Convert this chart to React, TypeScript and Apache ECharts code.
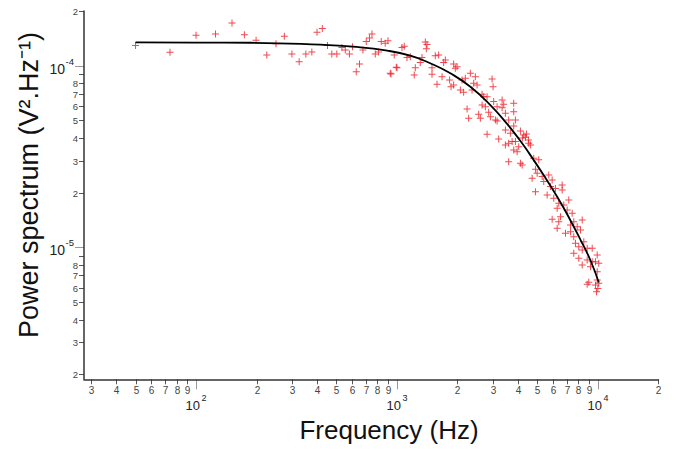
import React, { useEffect, useRef } from "react";
import * as echarts from "echarts";

// Axis extents (Hz, V²/Hz)
const xMin = 27.7;
const xMax = 20000;
const yMin = 1.876e-6;
const yMax = 2e-4;

// Measured points: [frequency Hz, power in 1e-5 V²/Hz]
const scatterPoints: [number, number][] = [
  [50, 12.9], [74.2, 11.85], [100, 14.7], [125, 14.95], [151, 17.2], [174, 14.8], [199, 13.8], [225, 11.45],
  [250, 13.2], [275, 14.5], [300, 11.6], [326, 10.5], [352, 11.6], [377, 11.9], [400, 15.3], [425, 16.0],
  [451, 12.9], [474, 11.6], [502, 11.6], [532, 12.6], [553, 12.2], [580, 11.6], [601, 12.7], [627, 9.27],
  [651, 10.2], [677, 12.2], [703, 13.6], [730, 14.2], [751, 14.95], [780, 11.6], [810, 11.9], [835, 13.6],
  [874, 13.3], [902, 13.7], [934, 9.0], [992, 9.8], [969, 11.45],
  [1059, 12.6], [1087, 12.8], [1384, 13.5], [1411, 13.1], [1400, 12.4], [1121, 11.1], [1165, 11.2],
  [1332, 11.1], [1551, 11.35], [1612, 11.45], [1741, 10.75], [1000, 9.75], [1234, 9.75], [1306, 10.4],
  [1494, 9.75], [1707, 10.4], [926, 9.08], [1219, 8.89], [1494, 8.97], [1676, 8.7], [1914, 10.2],
  [1991, 9.87], [1952, 9.67], [1582, 7.9], [1828, 8.34], [1858, 7.66], [1914, 7.83], [2108, 8.34],
  [2189, 8.52], [2318, 9.08], [2455, 8.7], [2504, 7.83], [2408, 8.0], [2068, 7.35], [2147, 7.14],
  [2364, 7.35], [2652, 6.96], [2701, 6.75], [2974, 8.45], [3008, 7.66], [2808, 6.75], [3029, 6.34],
  [3336, 6.47], [3398, 6.13], [3811, 6.21], [2652, 6.08], [2754, 5.95], [3150, 5.95], [3336, 5.87],
  [2233, 5.78], [2551, 5.4], [2860, 5.54], [2274, 5.13], [2600, 5.13], [2917, 5.24], [3089, 5.02],
  [3150, 4.96], [3464, 5.47], [3597, 5.02], [3811, 5.58], [3886, 5.02], [3464, 4.42], [3668, 4.24],
  [2808, 4.19], [3208, 3.95], [3886, 3.82],
  [3811, 4.66], [3597, 3.74], [3464, 3.66], [3741, 3.82], [3963, 3.36], [4036, 3.58], [3811, 3.43],
  [4274, 4.15], [4408, 4.21], [4357, 4.03], [4526, 3.74], [4615, 3.66], [4115, 2.9], [3597, 2.96],
  [4196, 2.84], [4793, 3.09], [5076, 3.03], [4888, 2.69], [4706, 2.4], [4984, 2.56], [5279, 2.45],
  [5376, 2.3], [5694, 2.5], [5920, 2.35], [5804, 2.16], [4888, 2.02], [5590, 1.941], [6148, 2.11],
  [6639, 2.2], [6639, 2.07], [6030, 1.861], [6385, 1.747], [6763, 1.71], [7161, 1.822], [7031, 1.605],
  [7445, 1.539], [5920, 1.426], [6385, 1.384], [7583, 1.384], [8354, 1.413], [7302, 1.327], [7886, 1.299],
  [4210, 4.0], [4510, 3.9], [4115, 4.37],
  [6269, 1.64], [6512, 1.474], [6269, 1.272], [6897, 1.194], [7302, 1.219], [7583, 1.144], [8190, 1.245],
  [7733, 1.052], [8031, 1.008], [8507, 1.074], [7583, 0.927], [8354, 0.966], [8844, 0.987], [9367, 0.987],
  [9920, 0.907], [8031, 0.87], [8844, 0.851], [9367, 0.833], [9728, 0.833], [10100, 0.816], [8354, 0.799],
  [9186, 0.782], [9920, 0.734], [9008, 0.642], [8844, 0.626], [9920, 0.661], [9728, 0.62], [10100, 0.634],
  [9840, 0.569], [9990, 0.594],
];

// Fitted curve, power in 1e-5 V²/Hz
const fitFreq = [50, 100, 186, 415, 606, 895, 1165, 1465, 1844, 2319, 2916, 3532, 4115, 4443, 5377, 6269, 7031, 8190, 9186, 10100];
const fitPower5 = [13.42, 13.4, 13.37, 13.05, 12.72, 12.1, 11.35, 10.31, 9.08, 7.66, 6.07, 4.78, 3.85, 3.42, 2.49, 1.9, 1.52, 1.1, 0.846, 0.64];

// Tick values and labels
const xMinorTicks = [30, 40, 50, 60, 70, 80, 90, 200, 300, 400, 500, 600, 700, 800, 900, 2000, 3000, 4000, 5000, 6000, 7000, 8000, 9000, 20000];
const xMinorLabels = ["3", "4", "5", "6", "7", "8", "9", "2", "3", "4", "5", "6", "7", "8", "9", "2", "3", "4", "5", "6", "7", "8", "9", "2"];
const xDecades = [100, 1000, 10000];
const xDecadeExps = ["2", "3", "4"];
const yMinorTicks = [2e-6, 3e-6, 4e-6, 5e-6, 6e-6, 7e-6, 8e-6, 9e-6, 2e-5, 3e-5, 4e-5, 5e-5, 6e-5, 7e-5, 8e-5, 9e-5, 2e-4];
const yMinorLabels = ["2", "3", "4", "5", "6", "7", "8", "", "2", "3", "4", "5", "6", "7", "8", "", "2"];
const yDecades = [1e-5, 1e-4];
const yDecadeExps = ["-5", "-4"];

const xTitle = "Frequency (Hz)";
const yTitle = "Power spectrum (V².Hz⁻¹)";

const FONT = "'Liberation Sans', Arial, Helvetica, sans-serif";
const PLUS = "path://M3,0L4,0L4,3L7,3L7,4L4,4L4,7L3,7L3,4L0,4L0,3L3,3Z";

export default function App() {
  const ref = useRef<HTMLDivElement>(null);
  useEffect(() => {
    if (!ref.current) return;
    const chart = echarts.init(ref.current, null, { renderer: "svg" });
    chart.setOption({
      animation: false,
      backgroundColor: "#ffffff",
      grid: { left: 84, top: 11, width: 574.4, height: 368.3, containLabel: false, outerBoundsMode: "none" },
      xAxis: {
        type: "log",
        logBase: 10,
        min: xMin,
        max: xMax,
        axisLine: { show: true, lineStyle: { color: "#333", width: 1.5 } },
        axisTick: { show: false },
        axisLabel: { show: false },
        splitLine: { show: false },
        minorTick: { show: false },
      },
      yAxis: {
        type: "log",
        logBase: 10,
        min: yMin,
        max: yMax,
        axisLine: { show: true, lineStyle: { color: "#333", width: 1.5 } },
        axisTick: { show: false },
        axisLabel: { show: false },
        splitLine: { show: false },
        minorTick: { show: false },
      },
      series: [
        {
          type: "scatter",
          symbol: PLUS,
          symbolSize: 7,
          itemStyle: { color: "#ec1b24" },
          data: scatterPoints.map(([f, p]) => [f, p * 1e-5]),
          z: 2,
        },
        {
          type: "line",
          showSymbol: false,
          smooth: 0.5,
          lineStyle: { color: "#000", width: 1.8 },
          data: fitFreq.map((f, i) => [f, fitPower5[i] * 1e-5]),
          z: 3,
        },
      ],
    });

    const px = (v: number) => chart.convertToPixel({ gridIndex: 0 }, [v, yMin])[0];
    const py = (v: number) => chart.convertToPixel({ gridIndex: 0 }, [xMin, v])[1];
    const axisX = px(xMin);
    const axisY = py(yMin);
    const g: any[] = [];
    const txt = (x: number, y: number, text: string, size: number, align: string, fill = "#333") => ({
      type: "text",
      x,
      y,
      silent: true,
      style: { text, fontSize: size, fontFamily: FONT, fill, align, verticalAlign: "middle" },
    });
    const ln = (x1: number, y1: number, x2: number, y2: number, stroke: string) => ({
      type: "line",
      silent: true,
      shape: { x1, y1, x2, y2 },
      style: { stroke, lineWidth: 1 },
    });

    xMinorTicks.forEach((v, i) => {
      const x = Math.round(px(v)) + 0.5;
      g.push(ln(x, axisY, x, axisY + 5, "#555"));
      if (xMinorLabels[i]) g.push(txt(x, axisY + 11.5, xMinorLabels[i], 10, "center", "#444"));
    });
    xDecades.forEach((v, i) => {
      const x = Math.round(px(v)) + 0.5;
      g.push(ln(x, axisY, x, axisY + 10, "#999"));
      g.push(txt(x + 3.5, axisY + 26.5, "10", 13, "right", "#222"));
      g.push(txt(x + 5, axisY + 19, xDecadeExps[i], 9, "left", "#222"));
    });
    yMinorTicks.forEach((v, i) => {
      const y = Math.round(py(v)) + 0.5;
      g.push(ln(axisX - 5, y, axisX, y, "#555"));
      if (yMinorLabels[i]) g.push(txt(axisX - 6, y, yMinorLabels[i], 9.5, "right", "#444"));
    });
    yDecades.forEach((v, i) => {
      const y = Math.round(py(v)) + 0.5;
      g.push(ln(axisX - 9, y, axisX, y, "#999"));
      g.push(txt(axisX - 19, y + 2.5, "10", 14, "right", "#222"));
      g.push(txt(axisX - 18.5, y - 5, yDecadeExps[i], 9.5, "left", "#222"));
    });

    g.push(txt(389, 430, xTitle, 26, "center", "#111"));
    g.push({
      type: "text",
      x: 29,
      y: 185,
      rotation: Math.PI / 2,
      silent: true,
      style: { text: yTitle, fontSize: 27, fontFamily: FONT, fill: "#111", align: "center", verticalAlign: "middle" },
    });

    chart.setOption({ graphic: g });
    return () => chart.dispose();
  }, []);

  return <div ref={ref} style={{ position: "absolute", left: 0, top: 0, width: 680, height: 450 }} />;
}
